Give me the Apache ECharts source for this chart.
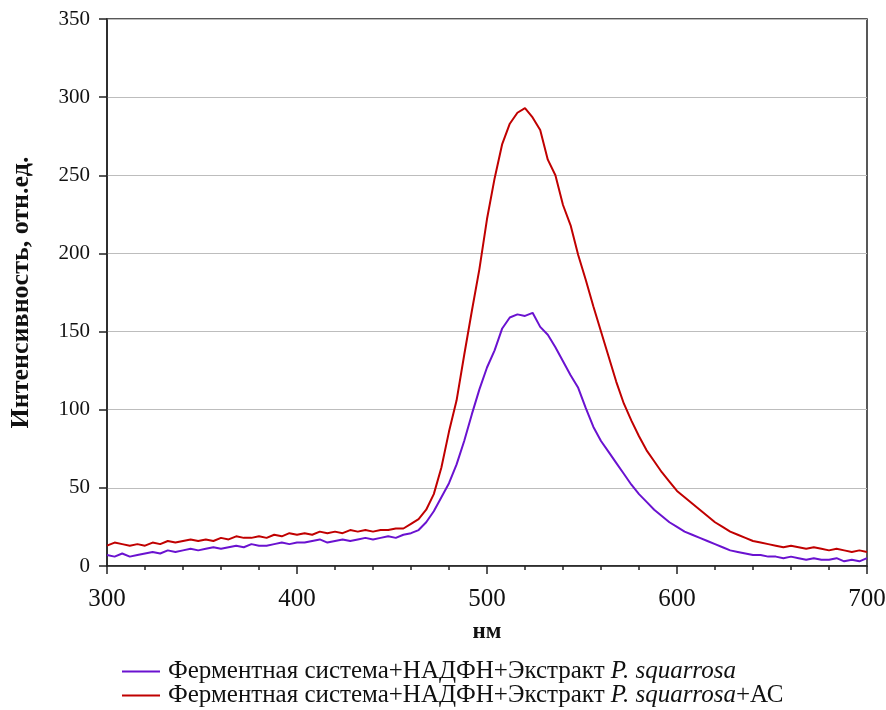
<!DOCTYPE html>
<html>
<head>
<meta charset="utf-8">
<script src="https://cdn.jsdelivr.net/npm/echarts@6/dist/echarts.min.js"></script>
<style>
  html, body { margin: 0; padding: 0; background: #fff; }
  #chart { width: 886px; height: 710px; }
</style>
</head>
<body>
<div id="chart"></div>
<script>
  // wavelength, nm
  var wavelengths = [
    300, 304, 308, 312, 316, 320, 324, 328, 332, 336,
    340, 344, 348, 352, 356, 360, 364, 368, 372, 376,
    380, 384, 388, 392, 396, 400, 404, 408, 412, 416,
    420, 424, 428, 432, 436, 440, 444, 448, 452, 456,
    460, 464, 468, 472, 476, 480, 484, 488, 492, 496,
    500, 504, 508, 512, 516, 520, 524, 528, 532, 536,
    540, 544, 548, 552, 556, 560, 564, 568, 572, 576,
    580, 584, 588, 592, 596, 600, 604, 608, 612, 616,
    620, 624, 628, 632, 636, 640, 644, 648, 652, 656,
    660, 664, 668, 672, 676, 680, 684, 688, 692, 696,
    700
  ];
  var extractValues = [
    7, 6, 8, 6, 7, 8, 9, 8, 10, 9,
    10, 11, 10, 11, 12, 11, 12, 13, 12, 14,
    13, 13, 14, 15, 14, 15, 15, 16, 17, 15,
    16, 17, 16, 17, 18, 17, 18, 19, 18, 20,
    21, 23, 28, 35, 44, 53, 65, 80, 97, 113,
    127, 138, 152, 159, 161, 160, 162, 153, 148, 140,
    131, 122, 114, 101, 89, 80, 73, 66, 59, 52,
    46, 41, 36, 32, 28, 25, 22, 20, 18, 16,
    14, 12, 10, 9, 8, 7, 7, 6, 6, 5,
    6, 5, 4, 5, 4, 4, 5, 3, 4, 3,
    5
  ];
  var extractAcValues = [
    13, 15, 14, 13, 14, 13, 15, 14, 16, 15,
    16, 17, 16, 17, 16, 18, 17, 19, 18, 18,
    19, 18, 20, 19, 21, 20, 21, 20, 22, 21,
    22, 21, 23, 22, 23, 22, 23, 23, 24, 24,
    27, 30, 36, 46, 63, 86, 106, 135, 163, 190,
    222, 248, 270, 283, 290, 293, 287, 279, 260, 250,
    231, 218, 199, 183, 166, 150, 134, 118, 104, 93,
    83, 74, 67, 60, 54, 48, 44, 40, 36, 32,
    28, 25, 22, 20, 18, 16, 15, 14, 13, 12,
    13, 12, 11, 12, 11, 10, 11, 10, 9, 10,
    9
  ];
  var seriesNames = [
    'Ферментная система+НАДФН+Экстракт P. squarrosa',
    'Ферментная система+НАДФН+Экстракт P. squarrosa+АС'
  ];
  var seriesColors = ['#6a12d0', '#c00000'];

  function pairs(xs, ys) {
    return xs.map(function(x, i) { return [x, ys[i]]; });
  }

  var font = '"Liberation Serif", "Times New Roman", serif';

  function makeLegend(name, top) {
    return {
      orient: 'horizontal',
      left: 117,
      top: top,
      itemWidth: 38,
      itemHeight: 2,
      itemGap: 0,
      icon: 'rect',
      textStyle: {
        fontFamily: font,
        fontSize: 25,
        color: '#111',
        padding: [0, 0, 0, 3],
        rich: {
          n: { fontFamily: font, fontSize: 25, color: '#111' },
          i: { fontFamily: font, fontSize: 25, color: '#111', fontStyle: 'italic' }
        }
      },
      formatter: function(n) {
        var parts = n.split('P. squarrosa');
        return '{n|' + parts[0] + '}{i|P. squarrosa}' + (parts[1] ? '{n|' + parts[1] + '}' : '');
      },
      data: [name]
    };
  }

  var myChart = echarts.init(document.getElementById('chart'));
  var option = {
    animation: false,
    textStyle: { fontFamily: font },
    grid: {
      left: 107,
      right: 19,
      top: 19,
      bottom: 144,
      containLabel: false,
      outerBoundsMode: 'none',
      show: true,
      borderColor: '#222',
      borderWidth: 1.5
    },
    legend: [makeLegend(seriesNames[0], 654), makeLegend(seriesNames[1], 678)],
    xAxis: {
      type: 'value',
      min: 300,
      max: 700,
      interval: 100,
      name: 'нм',
      nameLocation: 'middle',
      nameGap: 55,
      nameTextStyle: { fontFamily: font, fontSize: 23, fontWeight: 'bold', color: '#111' },
      axisLine: { onZero: false, lineStyle: { color: '#222', width: 1.5 } },
      axisTick: { show: true, length: 8, lineStyle: { color: '#222', width: 1.5 } },
      minorTick: { show: true, splitNumber: 5, length: 4, lineStyle: { color: '#222', width: 1.5 } },
      axisLabel: { margin: 21, fontSize: 25, color: '#111', fontFamily: font },
      splitLine: { show: false }
    },
    yAxis: {
      type: 'value',
      min: 0,
      max: 350,
      interval: 50,
      name: 'Интенсивность, отн.ед.',
      nameLocation: 'middle',
      nameGap: 73,
      nameTextStyle: { fontFamily: font, fontSize: 26, fontWeight: 'bold', color: '#111' },
      axisLine: { show: true, lineStyle: { color: '#222', width: 1.5 } },
      axisTick: { show: true, length: 8, lineStyle: { color: '#222', width: 1.5 } },
      axisLabel: { margin: 17, fontSize: 21, color: '#111', fontFamily: font },
      splitLine: { show: true, lineStyle: { color: '#bdbdbd', width: 1.2 } }
    },
    series: [{
      name: seriesNames[0],
      type: 'line',
      symbol: 'none',
      color: seriesColors[0],
      lineStyle: { width: 2, color: seriesColors[0] },
      data: pairs(wavelengths, extractValues)
    }, {
      name: seriesNames[1],
      type: 'line',
      symbol: 'none',
      color: seriesColors[1],
      lineStyle: { width: 2, color: seriesColors[1] },
      data: pairs(wavelengths, extractAcValues)
    }]
  };
  myChart.setOption(option);
</script>
</body>
</html>
